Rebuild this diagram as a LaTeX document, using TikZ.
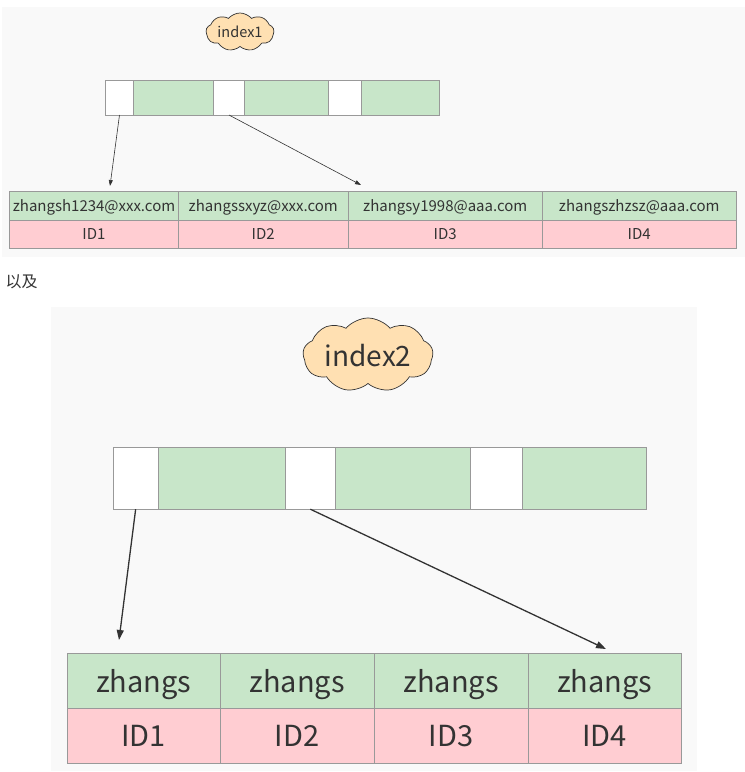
\documentclass[tikz,border=0pt]{standalone}
\usepackage{fontspec}
\setmainfont{Noto Sans CJK SC}
\usetikzlibrary{shapes.symbols,arrows.meta}
\definecolor{panel}{HTML}{F9F9F9}
\definecolor{keygreen}{HTML}{C8E6C9}
\definecolor{idpink}{HTML}{FFCDD2}
\definecolor{cloudfill}{HTML}{FFE0B2}
\definecolor{ink}{HTML}{333333}
\definecolor{rim}{HTML}{999999}
\tikzset{
  cell/.style={draw=rim, line width=0.7pt, anchor=north west, inner sep=0pt, outer sep=0pt, text=ink, text depth=0pt},
  idxcloud/.style={cloud, cloud puffs=9, cloud puff arc=100, cloud ignores aspect, draw=ink, fill=cloudfill, line width=0.7pt, inner sep=0pt, text=ink, text depth=0pt},
  arr/.style={draw=ink, -{Triangle[length=6pt,width=4pt]}, line width=0.6pt},
  bigarr/.style={draw=ink, -{Triangle[length=10pt,width=7pt]}, line width=1.3pt},
}
\begin{document}
\begin{tikzpicture}[x=1pt,y=-1pt]
\useasboundingbox[fill=white] (0,0) rectangle (745,772);
\fill[panel] (2,7) rectangle (745,257);
\fill[panel] (51,307) rectangle (697,771);

% first index
\node[idxcloud, minimum width=68, minimum height=38, font=\fontsize{14.5}{16}\selectfont] (c1) at (240,32) {index1};
\foreach \a/\b/\c [count=\i] in {105.5/133.5/white, 133.5/213.3/keygreen, 213.3/244.7/white, 244.7/328.7/keygreen, 328.7/361.5/white, 361.5/439.4/keygreen}{
  \pgfmathsetmacro\w{\b-\a}
  \node[cell, fill=\c, minimum width=\w, minimum height=35] (k\i) at (\a,80) {};
}
\foreach \a/\b/\t [count=\i] in {9.5/178.5/zhangsh1234@xxx.com, 178.5/348/zhangssxyz@xxx.com, 348/542.5/zhangsy1998@aaa.com, 542.5/736/zhangszhzsz@aaa.com}{
  \pgfmathsetmacro\w{\b-\a}
  \node[cell, fill=keygreen, minimum width=\w, minimum height=29, font=\fontsize{15}{17}\selectfont] (m\i) at (\a,191) {\t};
  \node[cell, fill=idpink, minimum width=\w, minimum height=28, font=\fontsize{15}{17}\selectfont] (p\i) at (\a,220) {ID\i};
}
\coordinate (t1) at (110,186);
\coordinate (t2) at (361,185);
\draw[arr] (k1.south) -- (t1);
\draw[arr] (k3.south) -- (t2);

\node[anchor=west, text=ink, font=\fontsize{16}{18}\selectfont] (also) at (2,282) {以及};

% second index
\node[idxcloud, minimum width=130, minimum height=74, font=\fontsize{28}{30}\selectfont] (c2) at (368,355) {index2};
\foreach \a/\b/\c [count=\i] in {112.9/158.4/white, 158.4/285.4/keygreen, 285.4/335.3/white, 335.3/470.2/keygreen, 470.2/522.2/white, 522.2/646.2/keygreen}{
  \pgfmathsetmacro\w{\b-\a}
  \node[cell, fill=\c, minimum width=\w, minimum height=61.5] (n\i) at (\a,447.7) {};
}
\foreach \a/\b [count=\i] in {67/220.5, 220.5/374, 374/528, 528/681.5}{
  \pgfmathsetmacro\w{\b-\a}
  \node[cell, fill=keygreen, minimum width=\w, minimum height=55, font=\fontsize{29}{32}\selectfont] (z\i) at (\a,653.7) {zhangs};
  \node[cell, fill=idpink, minimum width=\w, minimum height=54.6, font=\fontsize{29}{32}\selectfont] (q\i) at (\a,708.7) {ID\i};
}
\coordinate (u1) at (119,640);
\coordinate (u2) at (606,649);
\draw[bigarr] (n1.south) -- (u1);
\draw[bigarr] (n3.south) -- (u2);
\end{tikzpicture}
\end{document}
